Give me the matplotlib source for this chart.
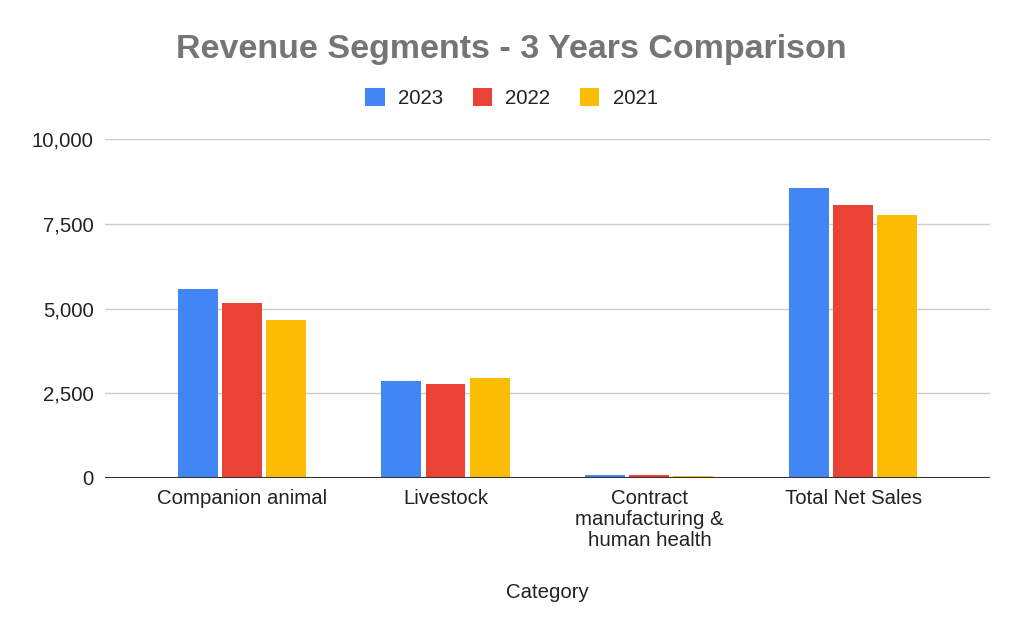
import numpy as np
import matplotlib
matplotlib.use("Agg")
import matplotlib.pyplot as plt
from matplotlib.patches import Patch
from matplotlib.ticker import FuncFormatter


categories = ["Companion animal", "Livestock", "Contract\nmanufacturing &\nhuman health", "Total Net Sales"]
years = ["2023", "2022", "2021"]
values_2023 = [5570, 2870, 80, 8560]
values_2022 = [5160, 2760, 80, 8060]
values_2021 = [4660, 2960, 70, 7750]
colors = ["#4285F4", "#EA4335", "#FBBC04"]
y_ticks = [0, 2500, 5000, 7500, 10000]

plt.rcParams["font.family"] = ["Liberation Sans", "DejaVu Sans"]

fig = plt.figure(figsize=(10.23, 6.32), dpi=100)
ax = fig.add_axes([0.1026, 0.2437, 0.8651, 0.5363])

x = np.arange(len(categories))
width = 0.196
step = 0.216
series = [values_2023, values_2022, values_2021]
for i, (vals, col) in enumerate(zip(series, colors)):
    ax.bar(x + (i - 1) * step, vals, width=width, color=col, zorder=3)

ax.set_xlim(-0.67, 3.67)
ax.set_ylim(0, 10000)
ax.set_yticks(y_ticks)
ax.yaxis.set_major_formatter(FuncFormatter(lambda v, p: f"{int(v):,}"))
ax.grid(axis="y", color="#cccccc", linewidth=1, zorder=0)
ax.axhline(0, color="#333333", linewidth=1.5, zorder=4)

for s in ax.spines.values():
    s.set_visible(False)
ax.tick_params(axis="both", length=0, labelsize=14.7, colors="#222222")
ax.tick_params(axis="y", pad=8)
ax.tick_params(axis="x", pad=8)
ax.set_xticks(x)
ax.set_xticklabels(categories, linespacing=1.13)
ax.set_xlabel("Category", fontsize=14.7, color="#222222", labelpad=24)

fig.text(0.5, 0.922, "Revenue Segments - 3 Years Comparison", ha="center", va="center",
         fontsize=24.5, fontweight="bold", color="#757575")

handles = [Patch(facecolor=c, edgecolor="none") for c in colors]
fig.legend(handles, years, loc="center", bbox_to_anchor=(0.5, 0.845), ncol=3, frameon=False,
           fontsize=14.7, handlelength=0.95, handleheight=0.95, handletextpad=0.65, columnspacing=1.45,
           labelcolor="#222222")

fig.savefig("out.png", dpi=100, facecolor="white")
